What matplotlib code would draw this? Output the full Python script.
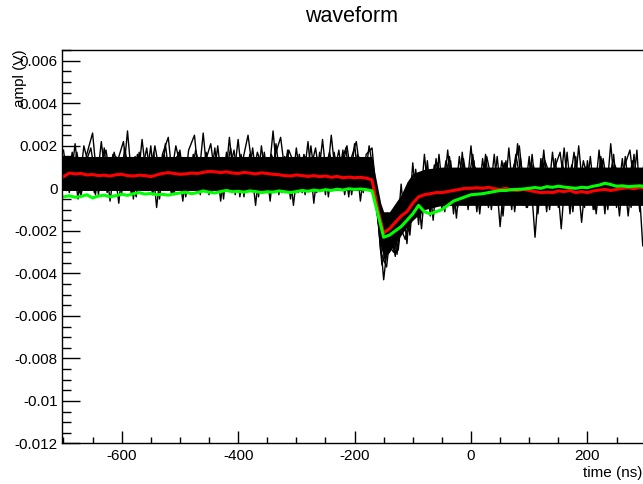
import numpy as np
import matplotlib
matplotlib.use("Agg")
import matplotlib.pyplot as plt
from matplotlib.ticker import MultipleLocator, FuncFormatter

plt.rcParams["font.family"] = ["Liberation Sans", "DejaVu Sans"]

# sample grid of the averaged waveforms (ns)
t_avg = np.arange(-700, 301, 10)

red_avg = [
    0.00055, 0.00072, 0.00068, 0.00070, 0.00063, 0.00065, 0.00060, 0.00062, 0.00058, 0.00064,
    0.00066, 0.00060, 0.00058, 0.00062, 0.00060, 0.00055, 0.00063, 0.00070, 0.00074, 0.00070,
    0.00066, 0.00068, 0.00072, 0.00070, 0.00075, 0.00080, 0.00078, 0.00074, 0.00078, 0.00072,
    0.00070, 0.00075, 0.00072, 0.00068, 0.00073, 0.00070, 0.00066, 0.00064, 0.00060, 0.00058,
    0.00063, 0.00060, 0.00056, 0.00060, 0.00055, 0.00058, 0.00052, 0.00056, 0.00050, 0.00053,
    0.00050, 0.00052, 0.00048, 0.00040, -0.0010, -0.0021, -0.0019, -0.0016, -0.0013, -0.0011,
    -0.0007, -0.0004, -0.0003, -0.00025, -0.0002, -0.0002, -0.00015, -0.0001, -0.00005, 0.0,
    0.0, 0.00003, 0.0, 0.00005, -0.00002, -0.00005, 0.0, -0.00008, -0.0001, -0.00005,
    -0.0001, -0.00015, -0.0002, -0.00018, -0.0002, -0.00012, -0.00015, -0.0001, -0.0002, -0.00015,
    -0.0002, -0.00012, -0.00008, -0.00005, -0.0001, -0.00005, 0.0, 0.00003, -0.00002, 0.00005,
    0.0,
]

green_avg = [
    -0.00040, -0.00035, -0.00042, -0.00038, -0.00030, -0.00045, -0.00036, -0.00032, -0.00040, -0.00034,
    -0.00028, -0.00033, -0.00025, -0.00020, -0.00027, -0.00024, -0.00030, -0.00028, -0.00032, -0.00026,
    -0.00022, -0.00018, -0.00025, -0.00020, -0.00012, -0.00018, -0.00022, -0.00015, -0.00010, -0.00016,
    -0.00014, -0.00018, -0.00012, -0.00015, -0.00020, -0.00016, -0.00018, -0.00012, -0.00016, -0.00020,
    -0.00015, -0.00010, -0.00014, -0.00008, -0.00012, -0.00006, -0.00010, -0.00004, -0.00008, -0.00002,
    -0.00005, -0.00003, -0.00006, -0.00012, -0.0012, -0.0023, -0.0022, -0.0020, -0.0018, -0.0015,
    -0.0012, -0.0008, -0.0011, -0.0012, -0.0011, -0.0010, -0.0008, -0.0006, -0.0005, -0.0004,
    -0.0003, -0.00028, -0.00025, -0.0002, -0.00015, -0.0001, -0.0001, -0.00006, -0.00005, -0.00003,
    0.0, 0.00004, 0.0, 0.00008, 0.00005, 0.0001, 0.00006, 0.00003, 0.0, 0.00005,
    0.00003, 0.0001, 0.00015, 0.00024, 0.00018, 0.0001, 0.00012, 0.00008, 0.0001, 0.00012,
    0.00008,
]

# individual (black) waveforms, four interleaved traces
t_raw_a = np.arange(-700, 301, 10)
raw_a = [
    0.0018, -0.0002, 0.0021, -0.0004, 0.0016, 0.0026, -0.0003, 0.0019, -0.0006, 0.0015,
    -0.0002, 0.0027, -0.0005, 0.0017, -0.0001, 0.0020, -0.0009, 0.0016, 0.0024, -0.0003,
    0.0018, -0.0004, 0.0014, -0.0002, 0.0026, -0.0003, 0.0019, -0.0006, 0.0017, -0.0001,
    0.0023, -0.0004, 0.0016, -0.0008, 0.0020, -0.0002, 0.0027, -0.0003, 0.0015, -0.0005,
    0.0019, -0.0002, 0.0022, -0.0007, 0.0017, -0.0003, 0.0025, -0.0001, 0.0018, -0.0004,
    0.0021, -0.0006, 0.0016, 0.0019,
    -0.0010, -0.0043, -0.0018, -0.0032, 0.0002, -0.0026, 0.0012, -0.0017, 0.0016, -0.0013,
    0.0014, -0.0010, 0.0018, -0.0012, 0.0015, -0.0008, 0.0020, -0.0011, 0.0014, -0.0009,
    0.0016, -0.0018, 0.0013, -0.0010, 0.0021, -0.0008, 0.0015, -0.0023, 0.0014, -0.0011,
    0.0017, -0.0009, 0.0019, -0.0012, 0.0015, -0.0016, 0.0013, -0.0010, 0.0018, -0.0012,
    0.0021, -0.0009, 0.0014, -0.0013, 0.0016, -0.0011, 0.0022,
]
t_raw_b = np.arange(-695, 296, 10)
raw_b = [
    -0.0001, 0.0017, -0.0005, 0.0020, 0.0009, -0.0003, 0.0022, -0.0002, 0.0016, -0.0007,
    0.0019, 0.0004, -0.0004, 0.0023, -0.0001, 0.0017, -0.0005, 0.0021, -0.0002, 0.0015,
    -0.0006, 0.0018, 0.0025, -0.0003, 0.0017, -0.0002, 0.0020, -0.0005, 0.0024, -0.0003,
    0.0016, -0.0001, 0.0019, -0.0004, 0.0017, -0.0006, 0.0021, -0.0002, 0.0018, -0.0008,
    0.0016, -0.0003, 0.0020, -0.0002, 0.0023, -0.0004, 0.0017, -0.0001, 0.0019, -0.0003,
    0.0016, -0.0002, 0.0020,
    0.0004, -0.0030, -0.0037, -0.0012, -0.0029, -0.0004, -0.0022, 0.0009, -0.0019, 0.0013,
    -0.0015, 0.0016, -0.0011, 0.0013, -0.0014, 0.0017, -0.0010, 0.0013, -0.0012, 0.0016,
    -0.0010, 0.0015, -0.0013, 0.0019, -0.0011, 0.0014, -0.0009, 0.0016, -0.0012, 0.0018,
    -0.0010, 0.0014, -0.0019, 0.0017, -0.0011, 0.0020, -0.0009, 0.0015, -0.0012, 0.0013,
    -0.0010, 0.0016, -0.0013, 0.0015, -0.0009, 0.0018, -0.0027,
]
t_raw_c = np.arange(-697, 300, 10)
raw_c = [
    0.0012, 0.0003, 0.0017, 0.0000, 0.0014, -0.0002, 0.0010, 0.0018, 0.0001, 0.0013,
    0.0022, -0.0001, 0.0015, 0.0005, 0.0019, -0.0003, 0.0011, 0.0016, 0.0002, 0.0020,
    0.0008, -0.0002, 0.0016, 0.0003, 0.0012, 0.0021, 0.0000, 0.0014, 0.0006, 0.0018,
    -0.0004, 0.0013, 0.0001, 0.0017, 0.0009, -0.0001, 0.0015, 0.0024, 0.0002, 0.0012,
    -0.0002, 0.0016, 0.0007, 0.0019, 0.0000, 0.0014, 0.0004, 0.0018, -0.0003, 0.0013,
    0.0022, 0.0001, 0.0011,
    0.0006, -0.0022, -0.0034, -0.0015, -0.0031, -0.0008, -0.0020, 0.0002, -0.0014, 0.0010,
    -0.0006, 0.0012, -0.0004, 0.0015, -0.0007, 0.0009, -0.0002, 0.0016, -0.0005, 0.0011,
    0.0003, -0.0008, 0.0013, -0.0003, 0.0010, 0.0020, -0.0006, 0.0012, -0.0001, 0.0014,
    -0.0008, 0.0009, 0.0017, -0.0004, 0.0011, -0.0007, 0.0013, 0.0002, -0.0010, 0.0015,
    -0.0003, 0.0012, -0.0006, 0.0010, 0.0018, -0.0005, 0.0008,
]
t_raw_d = np.arange(-693, 300, 10)
raw_d = [
    0.0004, 0.0015, -0.0002, 0.0011, 0.0019, 0.0002, 0.0013, -0.0001, 0.0017, 0.0006,
    0.0012, -0.0003, 0.0016, 0.0009, 0.0001, 0.0020, 0.0005, 0.0013, -0.0002, 0.0017,
    0.0011, 0.0001, 0.0018, 0.0007, -0.0001, 0.0015, 0.0010, 0.0003, 0.0019, 0.0000,
    0.0012, 0.0025, 0.0004, 0.0014, -0.0002, 0.0016, 0.0008, 0.0001, 0.0018, 0.0011,
    0.0002, 0.0015, -0.0001, 0.0012, 0.0006, 0.0017, 0.0003, 0.0013, 0.0020, 0.0000,
    0.0015, 0.0007, 0.0003,
    -0.0005, -0.0036, -0.0026, -0.0030, -0.0017, -0.0024, -0.0010, -0.0013, 0.0004, -0.0009,
    0.0011, -0.0005, 0.0013, 0.0001, -0.0009, 0.0014, -0.0003, 0.0010, -0.0008, 0.0015,
    0.0002, -0.0006, 0.0012, -0.0004, 0.0016, 0.0000, -0.0009, 0.0011, -0.0002, 0.0013,
    0.0005, -0.0007, 0.0012, -0.0003, 0.0017, -0.0005, 0.0010, 0.0001, -0.0008, 0.0014,
    -0.0004, 0.0011, 0.0004, -0.0006, 0.0013, -0.0002, 0.0009,
]

# densest core of the black band
env_t = [-704, -170, -165, -155, -150, -140, -130, -120, -110, -100, -80, -50, 0, 300]
env_hi = [0.0015, 0.0015, 0.0007, -0.0007, -0.0011, -0.0011, -0.0007, -0.0003, 0.0003, 0.0007, 0.0009, 0.0010, 0.0010, 0.0010]
env_lo = [-0.0001, -0.0001, -0.0009, -0.0027, -0.0033, -0.0030, -0.0026, -0.0022, -0.0018, -0.0015, -0.0010, -0.0008, -0.0008, -0.0008]

fig = plt.figure(figsize=(6.43, 4.84), dpi=100)
ax = fig.add_axes([0.0960, 0.0837, 0.9063, 0.8140])

ax.fill_between(env_t, env_lo, env_hi, color="black", lw=0)
for tt, yy in [(t_raw_a, raw_a), (t_raw_b, raw_b), (t_raw_c, raw_c), (t_raw_d, raw_d)]:
    ax.plot(tt, yy, color="black", lw=1.0)
ax.plot(t_avg, red_avg, color="#ff0000", lw=2.2)
ax.plot(t_avg, green_avg, color="#00ff00", lw=2.2)

ax.set_xlim(-703, 298)
ax.set_ylim(-0.012, 0.00653)

ax.xaxis.set_major_locator(MultipleLocator(200))
ax.xaxis.set_minor_locator(MultipleLocator(50))
ax.yaxis.set_major_locator(MultipleLocator(0.002))
ax.yaxis.set_minor_locator(MultipleLocator(0.0005))
ax.yaxis.set_major_formatter(FuncFormatter(lambda v, p: "%g" % round(v, 6)))
ax.xaxis.set_major_formatter(FuncFormatter(lambda v, p: "%g" % v))

ax.tick_params(axis="x", which="major", direction="in", length=8.6, width=1, labelsize=11, pad=4)
ax.tick_params(axis="x", which="minor", direction="in", length=4.3, width=1)
ax.tick_params(axis="y", which="major", direction="in", length=12.6, width=1, labelsize=11, pad=3)
ax.tick_params(axis="y", which="minor", direction="in", length=6.3, width=1)
ax.tick_params(top=False, right=False, which="both")
for s in ax.spines.values():
    s.set_linewidth(1)

fig.text(0.547, 1 - 16 / 484, "waveform", ha="center", va="center", fontsize=15.5)
fig.text(20 / 643, 1 - 49.5 / 484, "ampl (V)", rotation=90, ha="center", va="top", fontsize=11)
fig.text(642 / 643, 1 - 473 / 484, "time (ns)", ha="right", va="center", fontsize=11)

fig.savefig("out.png", dpi=100)
